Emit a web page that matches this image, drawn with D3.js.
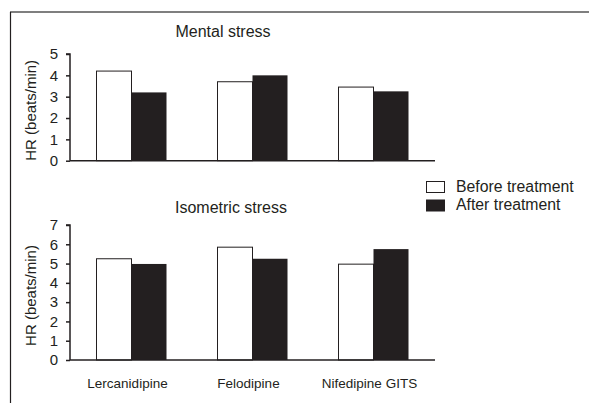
<!DOCTYPE html>
<html>
<head>
<meta charset="utf-8">
<script src="https://cdn.jsdelivr.net/npm/d3@7"></script>
<style>
  html, body { margin: 0; padding: 0; background: #fff; }
  svg { display: block; font-family: Arial, "Liberation Sans", sans-serif; }
</style>
</head>
<body>
<svg id="chart" width="589" height="403"></svg>
<script>
// Heart-rate response to stress tests, before and after each treatment
const drugs = ["Lercanidipine", "Felodipine", "Nifedipine GITS"];
const seriesNames = ["Before treatment", "After treatment"];
const mentalBefore = [4.2, 3.7, 3.45];
const mentalAfter = [3.2, 4.0, 3.25];
const isometricBefore = [5.25, 5.85, 4.97];
const isometricAfter = [4.98, 5.25, 5.75];
const mentalTicks = [0, 1, 2, 3, 4, 5];
const isometricTicks = [0, 1, 2, 3, 4, 5, 6, 7];

const ink = "#231f20";
const svg = d3.select("#chart");

// outer frame (top and left edges)
svg.append("line").attr("x1", 10).attr("x2", 589).attr("y1", 12).attr("y2", 12)
  .attr("stroke", "#555").attr("stroke-width", 1.5);
svg.append("line").attr("x1", 10.5).attr("x2", 10.5).attr("y1", 12).attr("y2", 403)
  .attr("stroke", ink).attr("stroke-width", 1.2);

const x0 = d3.scaleBand().domain(drugs).range([70, 433]).paddingInner(0).paddingOuter(0);
const barW = 35;

function panel(opts) {
  const y = d3.scaleLinear().domain([0, opts.max]).range([opts.bottom, opts.top]);
  const g = svg.append("g");

  const rows = drugs.map((d, i) => ({ drug: d, values: [opts.before[i], opts.after[i]] }));
  const grp = g.selectAll("g.grp").data(rows).join("g")
    .attr("transform", d => `translate(${x0(d.drug) + x0.bandwidth() / 2 + 1 - barW},0)`);
  grp.selectAll("rect").data(d => d.values).join("rect")
    .attr("x", (v, j) => j * barW)
    .attr("y", v => y(v))
    .attr("width", barW)
    .attr("height", v => y(0) - y(v))
    .attr("fill", (v, j) => j === 0 ? "#fff" : ink)
    .attr("stroke", (v, j) => j === 0 ? ink : "none")
    .attr("stroke-width", 1);

  const axis = d3.axisLeft(y).tickValues(opts.ticks).tickFormat(d3.format("d"))
    .tickSize(4).tickPadding(8);
  const ag = g.append("g").attr("transform", "translate(70,0)").call(axis);
  ag.select(".domain").attr("stroke", ink).attr("stroke-width", 1.5)
    .attr("d", `M-4,${y(opts.max)}H0V${y(0)}`);
  ag.selectAll(".tick line").attr("stroke", ink).attr("stroke-width", 1.5);
  ag.selectAll(".tick text").attr("fill", ink).style("font-size", "15px")
    .style("font-family", "Arial, 'Liberation Sans', sans-serif");

  // baseline
  g.append("line").attr("x1", 70).attr("x2", 435).attr("y1", y(0)).attr("y2", y(0))
    .attr("stroke", ink).attr("stroke-width", 1.5);

  g.append("text").attr("x", opts.titleX).attr("y", opts.titleY)
    .attr("text-anchor", "middle").attr("fill", ink).style("font-size", "16px")
    .text(opts.title);

  g.append("text")
    .attr("transform", `translate(36,${(opts.top + opts.bottom) / 2 + 3}) rotate(-90)`)
    .attr("text-anchor", "middle").attr("fill", ink).style("font-size", "15px")
    .text("HR (beats/min)");
  return y;
}

panel({ before: mentalBefore, after: mentalAfter, max: 5, ticks: mentalTicks,
  top: 54, bottom: 160.7, title: "Mental stress", titleX: 223, titleY: 37 });
panel({ before: isometricBefore, after: isometricAfter, max: 7, ticks: isometricTicks,
  top: 225, bottom: 360, title: "Isometric stress", titleX: 231, titleY: 213 });

// category labels
svg.selectAll("text.cat").data(drugs).join("text").attr("class", "cat")
  .attr("x", d => x0(d) + x0.bandwidth() / 2 - 3)
  .attr("y", 388)
  .attr("text-anchor", "middle").attr("fill", ink).style("font-size", "13.5px")
  .text(d => d);

// legend
const lg = svg.append("g").attr("transform", "translate(426,181)");
lg.selectAll("rect").data(seriesNames).join("rect")
  .attr("x", 0.5).attr("y", (d, i) => 0.5 + i * 18.5)
  .attr("width", 18).attr("height", 11)
  .attr("fill", (d, i) => i === 0 ? "#fff" : ink)
  .attr("stroke", ink).attr("stroke-width", 1);
lg.selectAll("text").data(seriesNames).join("text")
  .attr("x", 30).attr("y", (d, i) => 10.5 + i * 18.5)
  .attr("fill", ink).style("font-size", "15.8px")
  .text(d => d);
</script>
</body>
</html>
